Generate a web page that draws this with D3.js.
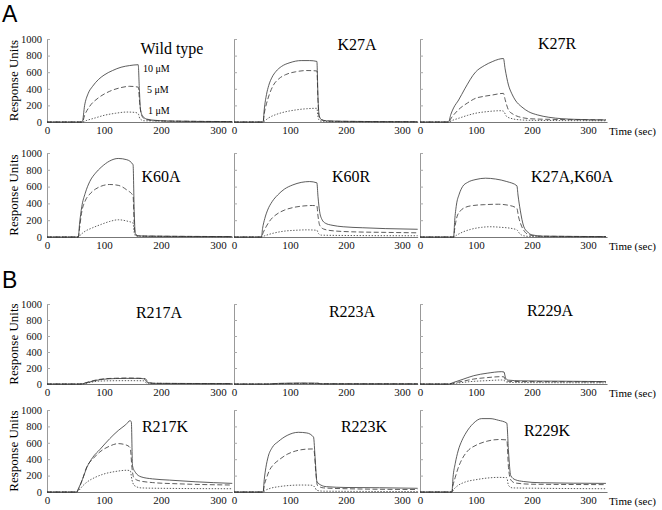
<!DOCTYPE html>
<html>
<head>
<meta charset="utf-8">
<script src="https://cdn.jsdelivr.net/npm/d3@7"></script>
<style>
  body { margin: 0; background: #fff; }
  svg { display: block; }
</style>
</head>
<body>
<script>
// sensorgram traces, [time (sec), response units]
var wt10 = [[0,0],[60,0],[62,5],[66,200],[72,340],[80,430],[90,510],[100,565],[115,620],[130,660],[145,680],[160,690],[162,400],[164,150],[168,70],[175,35],[190,20],[220,10],[325,5]];
var wt5 = [[0,0],[62,0],[66,80],[75,190],[90,290],[110,370],[130,415],[145,430],[160,420],[163,200],[166,80],[172,35],[190,15],[325,5]];
var wt1 = [[0,0],[62,0],[70,20],[85,50],[100,80],[120,105],[140,120],[155,115],[160,100],[163,40],[170,15],[325,3]];

var k27a10 = [[0,0],[52,0],[54,150],[58,330],[62,440],[68,540],[75,610],[85,670],[100,715],[120,740],[135,740],[148,730],[150,300],[152,80],[156,30],[165,15],[200,8],[328,3]];
var k27a5 = [[0,0],[52,0],[54,100],[58,220],[63,330],[70,440],[80,520],[92,570],[110,605],[130,620],[148,615],[150,250],[152,60],[156,25],[170,10],[328,3]];
var k27a1 = [[0,0],[52,0],[56,20],[62,50],[75,90],[90,120],[110,145],[130,160],[148,165],[150,60],[153,15],[160,5],[328,2]];

var k27r10 = [[0,0],[51,0],[55,90],[60,170],[69,265],[80,400],[99,600],[115,680],[129,727],[140,755],[149,765],[152,640],[158,445],[164,340],[170,265],[182,180],[194,124],[210,85],[230,57],[277,32],[332,25]];
var k27r5 = [[0,0],[51,0],[56,50],[69,150],[85,230],[99,285],[115,310],[129,325],[149,345],[152,270],[158,145],[166,95],[176,64],[200,38],[250,30],[332,25]];
var k27r1 = [[0,0],[51,0],[58,20],[69,45],[85,80],[99,105],[120,125],[145,136],[149,130],[155,64],[162,45],[170,32],[200,20],[332,15]];

var k60a10 = [[0,0],[55,0],[57,150],[61,360],[67,520],[75,660],[85,760],[95,830],[110,905],[125,935],[140,920],[151,860],[153,300],[155,40],[160,15],[175,10],[325,5]];
var k60a5 = [[0,0],[55,0],[57,100],[61,300],[67,430],[75,510],[85,570],[95,605],[110,625],[125,615],[140,560],[151,490],[153,150],[155,30],[160,12],[325,5]];
var k60a1 = [[0,0],[55,0],[58,20],[65,60],[80,110],[95,150],[110,185],[125,205],[140,190],[151,165],[153,50],[156,10],[325,3]];

var k60r10 = [[0,0],[49,0],[51,100],[55,220],[60,320],[68,420],[78,500],[90,570],[105,620],[120,650],[135,660],[148,645],[150,480],[153,300],[157,210],[163,165],[175,140],[195,122],[230,110],[270,100],[328,92]];
var k60r5 = [[0,0],[49,0],[52,50],[58,130],[66,210],[75,265],[90,320],[105,350],[125,370],[140,375],[148,370],[150,250],[153,140],[160,95],[175,75],[210,62],[270,55],[328,50]];
var k60r1 = [[0,0],[49,0],[55,15],[70,45],[90,70],[110,80],[130,85],[148,80],[151,40],[156,22],[200,18],[328,15]];

var dbl10 = [[0,0],[60,0],[62,200],[65,380],[70,510],[76,600],[85,650],[100,685],[117,700],[135,690],[155,660],[173,610],[175,500],[179,320],[185,130],[192,60],[200,25],[220,10],[332,5]];
var dbl5 = [[0,0],[60,0],[62,100],[66,240],[72,310],[80,350],[95,375],[115,385],[140,390],[160,375],[173,340],[176,240],[182,120],[188,55],[195,25],[210,10],[332,5]];
var dbl1 = [[0,0],[60,0],[65,20],[75,55],[90,90],[110,115],[125,122],[145,115],[165,100],[173,85],[178,40],[185,15],[200,5],[332,3]];

var r217a10 = [[0,0],[58,0],[72,20],[86,45],[100,60],[120,68],[140,70],[160,70],[170,65],[176,20],[185,8],[325,5]];
var r217a5 = [[0,0],[58,0],[72,25],[86,50],[100,65],[120,72],[140,75],[160,72],[172,68],[178,20],[190,8],[325,5]];
var r217a1 = [[0,0],[62,0],[76,20],[90,35],[110,40],[140,42],[170,40],[175,10],[325,3]];

var r223a10 = [[0,0],[60,0],[80,8],[120,12],[150,10],[155,3],[328,2]];
var r223a5 = [[0,0],[60,0],[80,6],[120,9],[150,8],[155,3],[328,2]];
var r223a1 = [[0,0],[60,0],[90,4],[150,5],[155,2],[328,1]];

var r229a10 = [[0,0],[51,0],[60,20],[75,55],[96,104],[120,135],[146,154],[150,150],[153,70],[158,48],[180,40],[250,35],[332,30]];
var r229a5 = [[0,0],[51,0],[62,15],[80,40],[96,62],[120,80],[146,92],[150,88],[153,45],[160,32],[250,28],[332,25]];
var r229a1 = [[0,0],[51,0],[65,10],[90,30],[120,42],[146,50],[150,45],[154,25],[170,18],[332,15]];

var r217k10 = [[0,0],[52,0],[55,40],[62,150],[70,300],[80,420],[93,520],[110,650],[125,750],[138,820],[146,870],[148,850],[150,320],[155,240],[165,185],[185,160],[215,145],[260,125],[325,105]];
var r217k5 = [[0,0],[52,0],[55,30],[62,150],[70,310],[80,400],[93,490],[110,560],[125,590],[138,575],[146,540],[149,300],[152,180],[160,140],[185,115],[230,100],[325,85]];
var r217k1 = [[0,0],[52,0],[56,20],[62,70],[70,120],[85,180],[100,220],[120,250],[140,265],[146,260],[149,150],[153,80],[165,50],[200,45],[325,40]];

var r223k10 = [[0,0],[52,0],[54,150],[57,300],[61,430],[68,540],[79,615],[95,690],[115,728],[130,720],[142,670],[145,400],[148,130],[155,85],[165,65],[200,55],[260,52],[328,45]];
var r223k5 = [[0,0],[52,0],[54,80],[58,170],[63,260],[70,330],[80,390],[95,460],[110,500],[125,520],[140,525],[143,500],[146,250],[149,80],[160,50],[200,40],[328,30]];
var r223k1 = [[0,0],[52,0],[56,20],[65,45],[80,65],[100,80],[120,85],[140,82],[144,60],[148,20],[160,10],[328,5]];

var r229k10 = [[0,0],[57,0],[59,180],[63,350],[68,500],[75,630],[82,720],[95,835],[110,895],[125,895],[140,875],[155,840],[158,500],[162,200],[170,150],[185,128],[215,113],[332,105]];
var r229k5 = [[0,0],[57,0],[59,80],[63,180],[68,290],[75,400],[85,500],[100,570],[120,620],[140,640],[155,635],[158,300],[162,150],[170,110],[200,95],[332,90]];
var r229k1 = [[0,0],[57,0],[60,30],[66,70],[80,120],[100,150],[120,170],[140,178],[155,175],[158,80],[165,50],[332,40]];

var panelNames = ["Wild type", "K27A", "K27R", "K60A", "K60R", "K27A,K60A",
                  "R217A", "R223A", "R229A", "R217K", "R223K", "R229K"];
var panelTraces = [
  [wt10, wt5, wt1], [k27a10, k27a5, k27a1], [k27r10, k27r5, k27r1],
  [k60a10, k60a5, k60a1], [k60r10, k60r5, k60r1], [dbl10, dbl5, dbl1],
  [r217a10, r217a5, r217a1], [r223a10, r223a5, r223a1], [r229a10, r229a5, r229a1],
  [r217k10, r217k5, r217k1], [r223k10, r223k5, r223k1], [r229k10, r229k5, r229k1]
];
var concLabels = ["10 \u03bcM", "5 \u03bcM", "1 \u03bcM"];
var yTicks = [0, 200, 400, 600, 800, 1000];
var xTicks = [0, 100, 200, 300];

// layout
var cols = [{x0: 47, k: 0.57, end: 325}, {x0: 234, k: 0.56, end: 328}, {x0: 420, k: 0.56, end: 334}];
var rows = [{y0: 122, top: 39}, {y0: 237, top: 153}, {y0: 384, top: 304}, {y0: 492, top: 410}];
var titlePos = [[172, 54], [357, 50], [557, 49], [161, 182], [351, 182], [572, 182],
                [159, 318], [352, 317], [550, 316], [165, 432], [364, 432], [547, 436]];
var dashes = [null, "5,2.5", "1.4,1.6"];
var serif = "'Liberation Serif', 'Times New Roman', serif";

var svg = d3.select("body").append("svg")
    .attr("width", 662)
    .attr("height", 510);

svg.append("text").attr("x", 2).attr("y", 22)
    .style("font-family", "'Liberation Sans', Arial, sans-serif").style("font-size", "23px")
    .text("A");
svg.append("text").attr("x", 2).attr("y", 288)
    .style("font-family", "'Liberation Sans', Arial, sans-serif").style("font-size", "23px")
    .text("B");

panelNames.forEach(function (name, i) {
    var c = cols[i % 3], r = rows[Math.floor(i / 3)];
    var x = d3.scaleLinear().domain([0, c.end]).range([c.x0, c.x0 + c.end * c.k]);
    var y = d3.scaleLinear().domain([0, 1000]).range([r.y0, r.top]);
    var g = svg.append("g");

    var ya = g.append("g")
        .attr("transform", "translate(" + c.x0 + ",0)")
        .call(d3.axisLeft(y).tickValues(yTicks).tickSizeInner(-3).tickSizeOuter(0).tickPadding(5)
            .tickFormat(i % 3 === 0 ? d3.format("d") : function () { return ""; }));
    ya.select(".domain").attr("stroke", "#999");
    ya.selectAll(".tick line").attr("stroke", "#aaa");
    ya.selectAll("text").style("font-family", serif).style("font-size", "10.5px").attr("fill", "#111");

    var xa = g.append("g")
        .attr("transform", "translate(0," + r.y0 + ")")
        .call(d3.axisBottom(x).tickValues(xTicks).tickSizeInner(0).tickSizeOuter(0).tickPadding(4)
            .tickFormat(d3.format("d")));
    xa.select(".domain").attr("stroke", "#777");
    xa.selectAll("text").style("font-family", serif).style("font-size", "11px").attr("fill", "#111");

    var line = d3.line()
        .x(function (d) { return x(d[0]); })
        .y(function (d) { return y(d[1]); })
        .curve(d3.curveMonotoneX);

    g.selectAll("path.trace")
        .data(panelTraces[i])
        .enter().append("path")
        .attr("class", "trace")
        .attr("d", line)
        .attr("fill", "none")
        .attr("stroke", "#333")
        .attr("stroke-width", 0.8)
        .attr("stroke-dasharray", function (d, j) { return dashes[j]; });

    g.append("text")
        .attr("x", titlePos[i][0]).attr("y", titlePos[i][1])
        .attr("text-anchor", "middle")
        .style("font-family", serif).style("font-size", "16px")
        .text(name);

    if (i % 3 === 0) {
        g.append("text")
            .attr("transform", "translate(18," + (r.y0 + r.top) / 2 + ") rotate(-90)")
            .attr("text-anchor", "middle")
            .style("font-family", serif).style("font-size", "13px")
            .text("Response Units");
    }
    if (i % 3 === 2) {
        g.append("text")
            .attr("x", 609).attr("y", r.y0 + 13)
            .style("font-family", serif).style("font-size", "11px")
            .text("Time (sec)");
    }
});

// concentration labels in the wild type panel
svg.selectAll("text.conc")
    .data(concLabels)
    .enter().append("text")
    .attr("class", "conc")
    .attr("x", function (d, j) { return [143, 147, 148][j]; })
    .attr("y", function (d, j) { return [72, 93, 114][j]; })
    .style("font-family", serif).style("font-size", "10px")
    .text(function (d) { return d; });
</script>
</body>
</html>
